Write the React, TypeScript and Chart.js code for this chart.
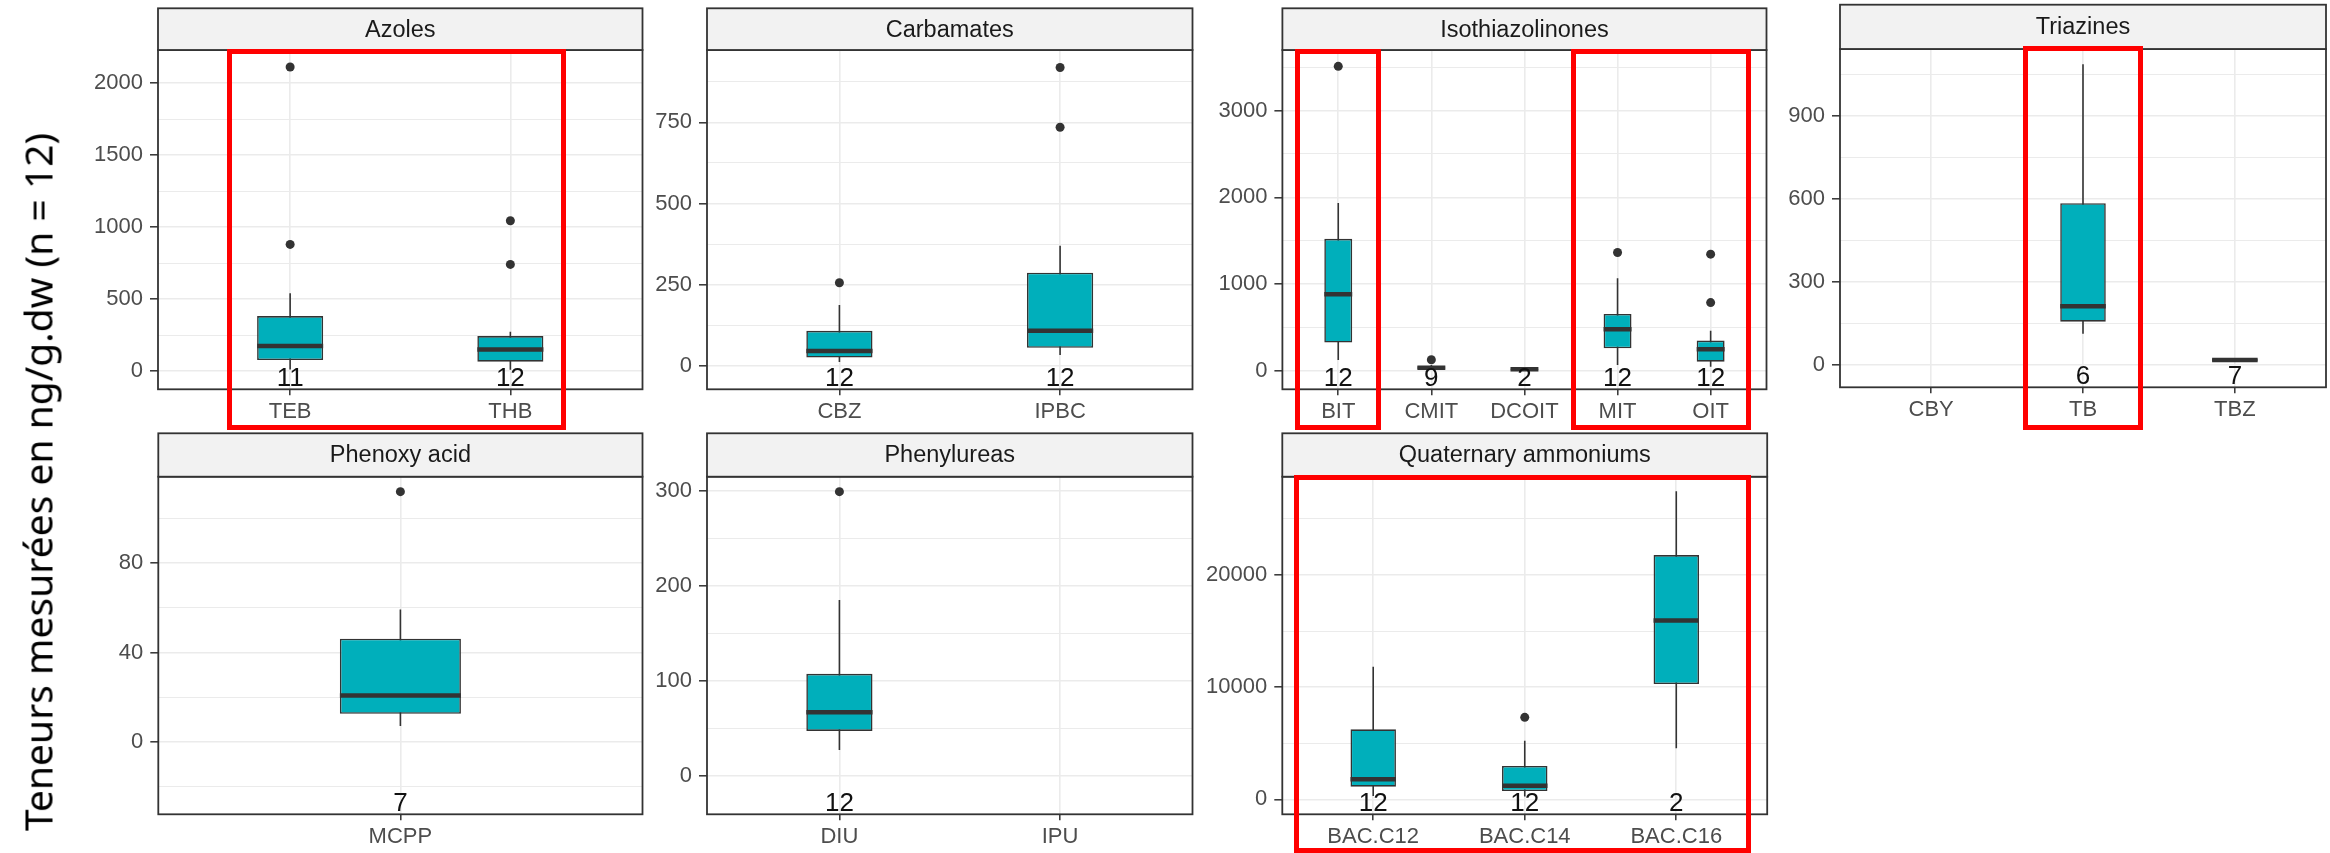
import React, { useEffect, useRef } from 'react';
import { Chart, registerables } from 'chart.js';

Chart.register(...registerables);

type Box = [number, number, number, number, number] | null; // [low whisker, q1, median, q3, high whisker]

// ---------------- DATA ----------------
const AZOLES_CATS = ['TEB', 'THB'];
const AZOLES_BOX: Box[] = [[10, 76, 174, 382, 540], [8, 65, 150, 243, 273]];
const AZOLES_OUT: number[][] = [[2113, 880], [1044, 741]];
const AZOLES_N: (number | null)[] = [11, 12];
const AZOLES_MAJOR = [0, 500, 1000, 1500, 2000];
const AZOLES_MINOR = [250, 750, 1250, 1750];
const AZOLES_LIMITS = [-127, 2231];

const CARBAMATES_CATS = ['CBZ', 'IPBC'];
const CARBAMATES_BOX: Box[] = [[12, 26, 46, 108, 188], [34, 56, 108, 287, 370]];
const CARBAMATES_OUT: number[][] = [[256], [735, 919]];
const CARBAMATES_N: (number | null)[] = [12, 12];
const CARBAMATES_MAJOR = [0, 250, 500, 750];
const CARBAMATES_MINOR = [125, 375, 625, 875];
const CARBAMATES_LIMITS = [-72, 973];

const ISO_CATS = ['BIT', 'CMIT', 'DCOIT', 'MIT', 'OIT'];
const ISO_BOX: Box[] = [
  [127, 327, 885, 1523, 1935],
  [10, 20, 38, 55, 70],
  [8, 10, 20, 30, 35],
  [69, 262, 481, 658, 1070],
  [50, 107, 250, 350, 465],
];
const ISO_OUT: number[][] = [[3511], [130], [], [1365], [1346, 788]];
const ISO_N: (number | null)[] = [12, 9, 2, 12, 12];
const ISO_MAJOR = [0, 1000, 2000, 3000];
const ISO_MINOR = [500, 1500, 2500, 3500];
const ISO_LIMITS = [-211, 3699];

const TRIAZINES_CATS = ['CBY', 'TB', 'TBZ'];
const TRIAZINES_BOX: Box[] = [null, [112, 156, 212, 584, 1086], [12, 13, 18, 22, 24]];
const TRIAZINES_OUT: number[][] = [[], [], []];
const TRIAZINES_N: (number | null)[] = [null, 6, 7];
const TRIAZINES_MAJOR = [0, 300, 600, 900];
const TRIAZINES_MINOR = [150, 450, 750, 1050];
const TRIAZINES_LIMITS = [-81, 1141];

const PHENOXY_CATS = ['MCPP'];
const PHENOXY_BOX: Box[] = [[7.3, 12.7, 20.9, 46.3, 59.3]];
const PHENOXY_OUT: number[][] = [[112]];
const PHENOXY_N: (number | null)[] = [7];
const PHENOXY_MAJOR = [0, 40, 80];
const PHENOXY_MINOR = [-20, 20, 60, 100];
const PHENOXY_LIMITS = [-32.2, 118.7];

const PHENYL_CATS = ['DIU', 'IPU'];
const PHENYL_BOX: Box[] = [[27.4, 47.4, 67, 107.4, 185], null];
const PHENYL_OUT: number[][] = [[299], []];
const PHENYL_N: (number | null)[] = [12, null];
const PHENYL_MAJOR = [0, 100, 200, 300];
const PHENYL_MINOR = [50, 150, 250];
const PHENYL_LIMITS = [-40.3, 314.7];

const QUAT_CATS = ['BAC.C12', 'BAC.C14', 'BAC.C16'];
const QUAT_BOX: Box[] = [
  [300, 1123, 1782, 6239, 11818],
  [250, 740, 1212, 2968, 5223],
  [4545, 10276, 15953, 21774, 27478],
];
const QUAT_OUT: number[][] = [[], [7308], []];
const QUAT_N: (number | null)[] = [12, 12, 2];
const QUAT_MAJOR = [0, 10000, 20000];
const QUAT_MINOR = [5000, 15000, 25000];
const QUAT_LIMITS = [-1337, 28765];

// ---------------- LAYOUT / STYLE ----------------
const BOX_WIDTH = 0.3;
const FILL = '#00AFBB';
const DARK = '#333333';
const GRID = '#EBEBEB';
const TICK_TEXT = '#4D4D4D';
const FONT = '"Liberation Sans", Arial, sans-serif';

type Frame = { L: number; R: number; T: number; B: number; S: number };

interface PanelCfg {
  title: string;
  cats: string[];
  box: Box[];
  out: number[][];
  n: (number | null)[];
  major: number[];
  minor: number[];
  limits: number[];
  frame: Frame;
}

const PANELS: PanelCfg[] = [
  { title: 'Azoles', cats: AZOLES_CATS, box: AZOLES_BOX, out: AZOLES_OUT, n: AZOLES_N, major: AZOLES_MAJOR, minor: AZOLES_MINOR, limits: AZOLES_LIMITS, frame: { L: 158, R: 642.7, T: 50, B: 389.3, S: 8.3 } },
  { title: 'Carbamates', cats: CARBAMATES_CATS, box: CARBAMATES_BOX, out: CARBAMATES_OUT, n: CARBAMATES_N, major: CARBAMATES_MAJOR, minor: CARBAMATES_MINOR, limits: CARBAMATES_LIMITS, frame: { L: 707, R: 1192.5, T: 50, B: 389.3, S: 8.3 } },
  { title: 'Isothiazolinones', cats: ISO_CATS, box: ISO_BOX, out: ISO_OUT, n: ISO_N, major: ISO_MAJOR, minor: ISO_MINOR, limits: ISO_LIMITS, frame: { L: 1282.4, R: 1766.8, T: 50, B: 389.3, S: 8.3 } },
  { title: 'Triazines', cats: TRIAZINES_CATS, box: TRIAZINES_BOX, out: TRIAZINES_OUT, n: TRIAZINES_N, major: TRIAZINES_MAJOR, minor: TRIAZINES_MINOR, limits: TRIAZINES_LIMITS, frame: { L: 1840, R: 2326, T: 49, B: 387.3, S: 4.7 } },
  { title: 'Phenoxy acid', cats: PHENOXY_CATS, box: PHENOXY_BOX, out: PHENOXY_OUT, n: PHENOXY_N, major: PHENOXY_MAJOR, minor: PHENOXY_MINOR, limits: PHENOXY_LIMITS, frame: { L: 158.3, R: 642.7, T: 476.7, B: 814.3, S: 433.3 } },
  { title: 'Phenylureas', cats: PHENYL_CATS, box: PHENYL_BOX, out: PHENYL_OUT, n: PHENYL_N, major: PHENYL_MAJOR, minor: PHENYL_MINOR, limits: PHENYL_LIMITS, frame: { L: 707, R: 1192.9, T: 476.7, B: 814.3, S: 433.3 } },
  { title: 'Quaternary ammoniums', cats: QUAT_CATS, box: QUAT_BOX, out: QUAT_OUT, n: QUAT_N, major: QUAT_MAJOR, minor: QUAT_MINOR, limits: QUAT_LIMITS, frame: { L: 1282.3, R: 1767.2, T: 476.7, B: 814.3, S: 433.3 } },
];

// highlight rectangles (outer edges, page coordinates)
const HIGHLIGHTS = [
  { l: 227, t: 49, r: 566, b: 430 },
  { l: 1295, t: 49, r: 1381, b: 430 },
  { l: 1571, t: 49, r: 1751, b: 430 },
  { l: 2023, t: 46, r: 2143, b: 430 },
  { l: 1294, t: 475, r: 1751, b: 853 },
];

function canvasBox(f: Frame) {
  const cx = Math.floor(f.L) - 125;
  const cy = Math.max(0, Math.floor(f.S) - 4);
  const cw = Math.min(2330, Math.ceil(f.R) + 4) - cx;
  const ch = Math.min(853, Math.ceil(f.B) + 44) - cy;
  return { cx, cy, cw, ch };
}

function Panel({ cfg }: { cfg: PanelCfg }) {
  const ref = useRef<HTMLCanvasElement | null>(null);
  const { cx, cy, cw, ch } = canvasBox(cfg.frame);

  useEffect(() => {
    const f = cfg.frame;
    const nCat = cfg.cats.length;
    const xMin = 0.4;
    const xMax = nCat + 0.6;
    const half = BOX_WIDTH / 2;

    const whiskers: any[] = [];
    const boxes: any[] = [];
    const medians: any[] = [];
    const outliers: any[] = [];
    cfg.box.forEach((b, i) => {
      const x = i + 1;
      if (b) {
        whiskers.push({ x, y: b[0] }, { x, y: b[4] }, { x, y: null });
        boxes.push({ x, y: [b[1], b[3]] });
        medians.push({ x: x - half, y: b[2] }, { x: x + half, y: b[2] }, { x, y: null });
      }
      (cfg.out[i] || []).forEach((v) => outliers.push({ x, y: v }));
    });

    const majorSet = new Set(cfg.major);
    const allTicks = [...cfg.major, ...cfg.minor].sort((a, b) => a - b);

    const stripTop = f.S - cy;

    const panelPlugin = {
      id: 'panelDecor',
      afterDraw(chart: any) {
        const { ctx, chartArea: a, scales } = chart;
        ctx.save();
        // counts
        ctx.fillStyle = '#111111';
        ctx.font = `26px ${FONT}`;
        ctx.textAlign = 'center';
        ctx.textBaseline = 'alphabetic';
        cfg.n.forEach((n, i) => {
          if (n == null) return;
          ctx.fillText(String(n), scales.x.getPixelForValue(i + 1), a.bottom - 3.5);
        });
        // panel border
        ctx.strokeStyle = DARK;
        ctx.lineWidth = 1.8;
        ctx.strokeRect(a.left, a.top, a.right - a.left, a.bottom - a.top);
        // strip
        ctx.fillStyle = '#F2F2F2';
        ctx.fillRect(a.left, stripTop, a.right - a.left, a.top - stripTop);
        ctx.strokeRect(a.left, stripTop, a.right - a.left, a.top - stripTop);
        ctx.fillStyle = '#1A1A1A';
        ctx.font = `23.5px ${FONT}`;
        ctx.textBaseline = 'middle';
        ctx.fillText(cfg.title, (a.left + a.right) / 2, (stripTop + a.top) / 2 + 1);
        ctx.restore();
      },
    };

    const chart = new Chart(ref.current as HTMLCanvasElement, {
      type: 'bar',
      data: {
        datasets: [
          {
            type: 'line',
            data: whiskers,
            borderColor: DARK,
            borderWidth: 1.6,
            pointRadius: 0,
            spanGaps: false,
            order: 3,
          } as any,
          {
            type: 'bar',
            data: boxes,
            backgroundColor: FILL,
            borderColor: DARK,
            borderWidth: 1.6,
            borderSkipped: false,
            categoryPercentage: 1,
            barPercentage: nCat > 1 ? BOX_WIDTH : BOX_WIDTH / (xMax - xMin),
            order: 2,
          } as any,
          {
            type: 'line',
            data: medians,
            borderColor: DARK,
            borderWidth: 4.5,
            borderCapStyle: 'butt',
            pointRadius: 0,
            spanGaps: false,
            order: 1,
          } as any,
          {
            type: 'line',
            data: outliers,
            showLine: false,
            pointRadius: 4.5,
            pointBackgroundColor: DARK,
            pointBorderWidth: 0,
            order: 0,
          } as any,
        ],
      },
      options: {
        animation: false,
        responsive: false,
        events: [],
        layout: { padding: { top: f.T - cy, left: 0, right: cx + cw - f.R, bottom: 0 } },
        plugins: { legend: { display: false }, tooltip: { enabled: false }, title: { display: false } },
        scales: {
          x: {
            type: 'linear',
            min: xMin,
            max: xMax,
            offset: false,
            afterBuildTicks: (s: any) => {
              s.ticks = cfg.cats.map((_, i) => ({ value: i + 1 }));
            },
            afterFit: (s: any) => {
              s.height = cy + ch - f.B;
            },
            ticks: {
              autoSkip: false,
              maxRotation: 0,
              minRotation: 0,
              padding: 3,
              color: TICK_TEXT,
              font: { family: FONT, size: 22 },
              callback: (v: any) => cfg.cats[Math.round(Number(v)) - 1] ?? '',
            },
            grid: { offset: false, color: GRID, lineWidth: 1.6, tickColor: DARK, tickLength: 6, tickWidth: 1.5 },
            border: { display: false },
          },
          y: {
            type: 'linear',
            min: cfg.limits[0],
            max: cfg.limits[1],
            afterBuildTicks: (s: any) => {
              s.ticks = allTicks.map((v) => ({ value: v }));
            },
            afterFit: (s: any) => {
              s.width = f.L - cx;
            },
            ticks: {
              autoSkip: false,
              padding: 7,
              color: TICK_TEXT,
              font: { family: FONT, size: 22 },
              callback: (v: any) => (majorSet.has(Number(v)) ? String(v) : ''),
            },
            grid: {
              offset: false,
              color: GRID,
              lineWidth: (c: any) => (c.tick && majorSet.has(c.tick.value) ? 1.6 : 1.1),
              tickColor: (c: any) => (c.tick && majorSet.has(c.tick.value) ? DARK : 'rgba(0,0,0,0)'),
              tickLength: 8,
              tickWidth: 1.5,
            },
            border: { display: false },
          },
        },
      } as any,
      plugins: [panelPlugin as any],
    });
    return () => chart.destroy();
  }, [cfg, cx, cy, cw, ch]);

  return (
    <canvas
      ref={ref}
      width={cw}
      height={ch}
      style={{ position: 'absolute', left: cx, top: cy, width: cw, height: ch }}
    />
  );
}

export default function App() {
  return (
    <div
      style={{
        position: 'absolute',
        left: 0,
        top: 0,
        width: 2330,
        height: 853,
        overflow: 'hidden',
        background: '#ffffff',
      }}
    >
      {PANELS.map((p) => (
        <Panel key={p.title} cfg={p} />
      ))}
      <div
        style={{
          position: 'absolute',
          left: 37,
          top: 482,
          transform: 'translate(-50%, -50%) rotate(-90deg)',
          whiteSpace: 'nowrap',
          fontFamily: '"Noto Sans", "Open Sans", sans-serif',
          fontSize: 39,
          color: '#000000',
          lineHeight: 1,
        }}
      >
        Teneurs mesurées en ng/g.dw (n = 12)
      </div>
      {HIGHLIGHTS.map((h, i) => (
        <div
          key={i}
          style={{
            position: 'absolute',
            left: h.l,
            top: h.t,
            width: h.r - h.l,
            height: h.b - h.t,
            border: '5px solid #FF0000',
            boxSizing: 'border-box',
            pointerEvents: 'none',
          }}
        />
      ))}
    </div>
  );
}
